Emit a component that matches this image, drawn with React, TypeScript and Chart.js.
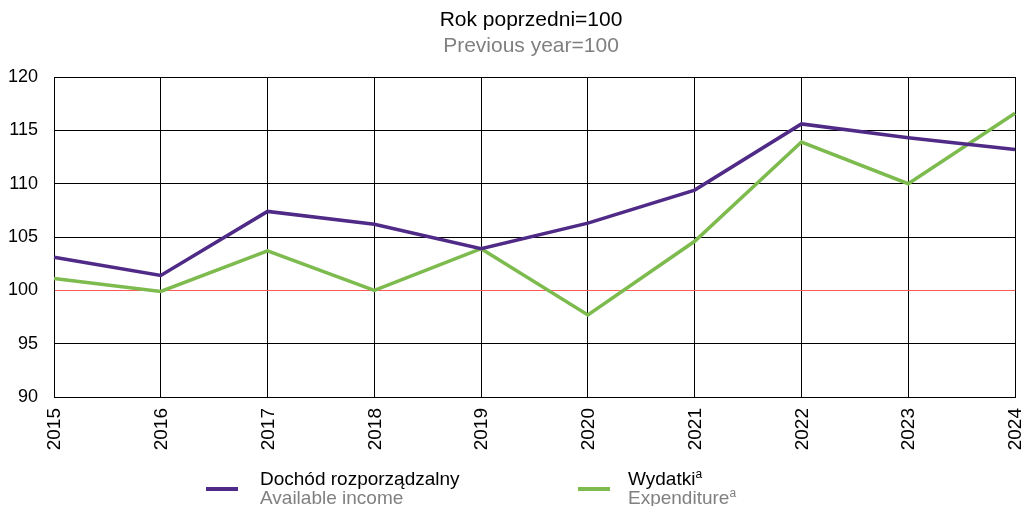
import React, { useEffect, useRef } from "react";
import { Chart, registerables } from "chart.js";

Chart.register(...registerables);

const years = ["2015", "2016", "2017", "2018", "2019", "2020", "2021", "2022", "2023", "2024"];
const availableIncome = [103.1, 101.4, 107.4, 106.2, 103.9, 106.3, 109.4, 115.6, 114.3, 113.2];
const expenditure = [101.1, 99.9, 103.7, 100.0, 103.9, 97.7, 104.6, 113.9, 110.0, 116.6];
const yTicks = [90, 95, 100, 105, 110, 115, 120];

const FONT = "'Liberation Sans', Arial, sans-serif";
const PURPLE = "#4f2a87";
const GREEN = "#7dbb4f";

const rotatedXLabels = {
  id: "rotatedXLabels",
  afterDraw(chart: any) {
    const scale = chart.scales.x;
    const ctx = chart.ctx;
    ctx.save();
    ctx.fillStyle = "#000";
    ctx.font = `19px ${FONT}`;
    ctx.textAlign = "right";
    ctx.textBaseline = "middle";
    years.forEach((label, i) => {
      const x = scale.getPixelForTick(i);
      ctx.save();
      ctx.translate(x + 1, scale.top + 11);
      ctx.rotate(-Math.PI / 2);
      ctx.fillText(label, 0, 0);
      ctx.restore();
    });
    ctx.restore();
  },
};

export default function App() {
  const ref = useRef<HTMLCanvasElement | null>(null);
  useEffect(() => {
    if (!ref.current) return;
    const chart = new Chart(ref.current, {
      type: "line",
      data: {
        labels: years,
        datasets: [
          {
            label: "Dochód rozporządzalny",
            data: availableIncome,
            borderColor: PURPLE,
            backgroundColor: PURPLE,
            borderWidth: 3.5,
            pointRadius: 0,
            tension: 0,
          },
          {
            label: "Wydatki",
            data: expenditure,
            borderColor: GREEN,
            backgroundColor: GREEN,
            borderWidth: 3.5,
            pointRadius: 0,
            tension: 0,
          },
        ],
      },
      options: {
        animation: false,
        responsive: false,
        maintainAspectRatio: false,
        layout: { padding: { top: 77, right: 16, left: 0, bottom: 0 } },
        plugins: { legend: { display: false }, tooltip: { enabled: false }, title: { display: false } },
        scales: {
          x: {
            offset: false,
            grid: { color: "#000", lineWidth: 1, drawTicks: false },
            border: { color: "#000" },
            ticks: { display: false, autoSkip: false },
            afterFit: (s: any) => {
              s.height = 109;
              s.paddingRight = 0;
              s.paddingLeft = 0;
            },
          },
          y: {
            min: 90,
            max: 120,
            afterBuildTicks: (s: any) => {
              s.ticks = yTicks.map((v) => ({ value: v }));
            },
            grid: {
              color: (c: any) => (c.tick && c.tick.value === 100 ? "#ff5a5a" : "#000"),
              lineWidth: 1,
              drawTicks: false,
            },
            border: { color: "#000" },
            ticks: {
              color: "#000",
              font: { family: FONT, size: 18 },
              padding: 16,
            },
            afterFit: (s: any) => {
              s.width = 54;
            },
          },
        },
      },
      plugins: [rotatedXLabels],
    });
    return () => chart.destroy();
  }, []);

  const legendText: React.CSSProperties = { position: "absolute", fontFamily: FONT, fontSize: 19, lineHeight: "20px", whiteSpace: "nowrap" };
  const sup: React.CSSProperties = { fontSize: 12, verticalAlign: "7px", lineHeight: 0 };
  return (
    <div style={{ position: "fixed", left: 0, top: 0, width: 1031, height: 506, background: "#fff" }}>
      <canvas ref={ref} width={1031} height={506} style={{ position: "absolute", left: 0, top: 0 }} />
      <div style={{ position: "absolute", left: 0, width: 1062, top: 6, textAlign: "center", fontFamily: FONT, fontSize: 21, lineHeight: "26px", color: "#000" }}>
        Rok poprzedni=100
      </div>
      <div style={{ position: "absolute", left: 0, width: 1062, top: 32, textAlign: "center", fontFamily: FONT, fontSize: 21, lineHeight: "26px", color: "#808080" }}>
        Previous year=100
      </div>
      <div style={{ position: "absolute", left: 206, top: 487, width: 32, height: 4, background: PURPLE }} />
      <div style={{ ...legendText, left: 260, top: 469, color: "#000" }}>Dochód rozporządzalny</div>
      <div style={{ ...legendText, left: 260, top: 488, color: "#808080" }}>Available income</div>
      <div style={{ position: "absolute", left: 578, top: 487, width: 32, height: 4, background: GREEN }} />
      <div style={{ ...legendText, left: 628, top: 469, color: "#000" }}>
        Wydatki<sup style={sup}>a</sup>
      </div>
      <div style={{ ...legendText, left: 628, top: 488, color: "#808080" }}>
        Expenditure<sup style={sup}>a</sup>
      </div>
    </div>
  );
}
